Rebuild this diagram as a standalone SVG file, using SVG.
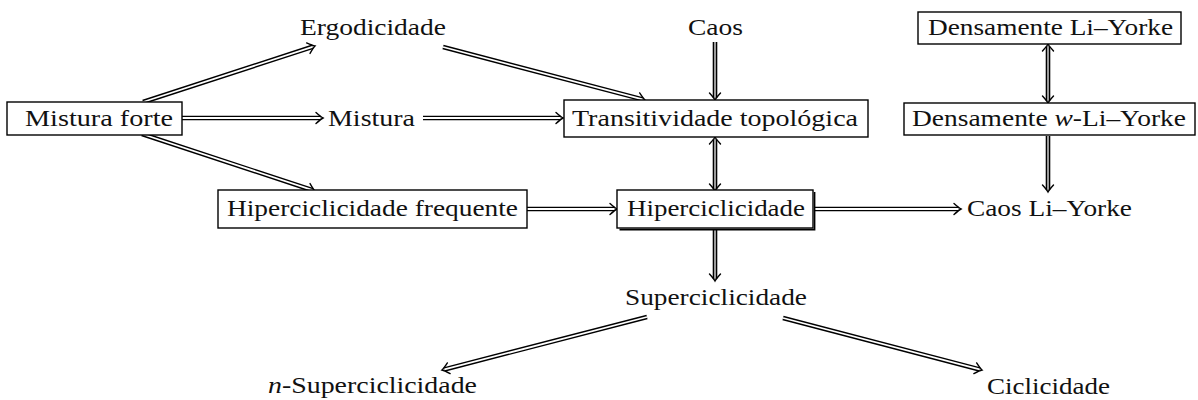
<svg xmlns="http://www.w3.org/2000/svg" width="1198" height="400" viewBox="0 0 1198 400">
<style>
text{font-family:"Liberation Serif","DejaVu Serif",serif;font-size:24px;fill:#111}
.box{fill:#fff;stroke:#000;stroke-width:1.4}
.o{fill:none;stroke:#000;stroke-width:4.6}
.i{fill:none;stroke:#fff;stroke-width:1.8}
.iv{fill:none;stroke:#9a9a9a;stroke-width:2}
.e{marker-end:url(#ah)}
.b{marker-start:url(#ah);marker-end:url(#ah)}
</style>
<defs>
<marker id="ah" markerWidth="16" markerHeight="16" viewBox="-12 -8 16 16" refX="-2.5" refY="0" orient="auto-start-reverse" markerUnits="userSpaceOnUse" overflow="visible">
<path d="M-7,-5.5 Q-2,-1 0,0 Q-2,1 -7,5.5" fill="none" stroke="#000" stroke-width="1.4" stroke-linecap="round"/>
</marker>
</defs>
<rect width="1198" height="400" fill="#fff"/>
<g id="connectors">
<path class="o" d="M143,102 L312.6,46.8"/><path class="i e" d="M143,102 L312.6,46.8"/>
<path class="o" d="M182,118 L320.5,118"/><path class="i e" d="M182,118 L320.5,118"/>
<path class="o" d="M142,134 L312.6,190.2"/><path class="i e" d="M142,134 L312.6,190.2"/>
<path class="o" d="M423,118 L560.5,118"/><path class="i e" d="M423,118 L560.5,118"/>
<path class="o" d="M443,47 L642.6,99.4"/><path class="i e" d="M443,47 L642.6,99.4"/>
<path class="o" d="M715,42 L715,97.5"/><path class="iv e" d="M715,42 L715,97.5"/>
<path class="o" d="M715,139.5 L715,188.5"/><path class="iv b" d="M715,139.5 L715,188.5"/>
<path class="o" d="M527,209 L614.5,209"/><path class="i e" d="M527,209 L614.5,209"/>
<path class="o" d="M815,209 L958.5,209"/><path class="i e" d="M815,209 L958.5,209"/>
<path class="o" d="M715,229 L715,278.5"/><path class="iv e" d="M715,229 L715,278.5"/>
<path class="o" d="M1048,46.5 L1048,100.5"/><path class="iv b" d="M1048,46.5 L1048,100.5"/>
<path class="o" d="M1048,136 L1048,189.5"/><path class="iv e" d="M1048,136 L1048,189.5"/>
<path class="o" d="M647,317 L444.4,369.4"/><path class="i e" d="M647,317 L444.4,369.4"/>
<path class="o" d="M783,318 L979.6,369.4"/><path class="i e" d="M783,318 L979.6,369.4"/>
</g>
<g id="ergodicidade"><text x="300" y="35" textLength="146" lengthAdjust="spacingAndGlyphs">Ergodicidade</text></g>
<g id="caos"><text x="688" y="35" textLength="55" lengthAdjust="spacingAndGlyphs">Caos</text></g>
<g id="densamente-li-yorke"><rect class="box" x="918" y="12" width="263" height="32"/><text x="928" y="35" textLength="245" lengthAdjust="spacingAndGlyphs">Densamente Li–Yorke</text></g>
<g id="mistura-forte"><rect class="box" x="7" y="102" width="175" height="33"/><text x="25" y="126" textLength="148" lengthAdjust="spacingAndGlyphs">Mistura forte</text></g>
<g id="mistura"><text x="328" y="126" textLength="87" lengthAdjust="spacingAndGlyphs">Mistura</text></g>
<g id="transitividade"><rect class="box" x="564" y="100" width="304" height="37"/><text x="572" y="126" textLength="286" lengthAdjust="spacingAndGlyphs">Transitividade topológica</text></g>
<g id="densamente-w-li-yorke"><rect class="box" x="904" y="103" width="291" height="32"/><text x="912" y="126" textLength="274" lengthAdjust="spacingAndGlyphs">Densamente <tspan font-style="italic">w</tspan>-Li–Yorke</text></g>
<g id="hip-freq"><rect class="box" x="218" y="190" width="309" height="38"/><text x="227" y="216" textLength="291" lengthAdjust="spacingAndGlyphs">Hiperciclicidade frequente</text></g>
<g id="hiperciclicidade"><path d="M619.5,229.6 H814.6 V192" fill="none" stroke="#000" stroke-width="1.6"/><rect class="box" x="617" y="190" width="196" height="38"/><text x="627" y="216" textLength="178" lengthAdjust="spacingAndGlyphs">Hiperciclicidade</text></g>
<g id="caos-li-yorke"><text x="967" y="216" textLength="165" lengthAdjust="spacingAndGlyphs">Caos Li–Yorke</text></g>
<g id="superciclicidade"><text x="625" y="305" textLength="182" lengthAdjust="spacingAndGlyphs">Superciclicidade</text></g>
<g id="n-superciclicidade"><text x="268" y="393" textLength="209" lengthAdjust="spacingAndGlyphs"><tspan font-style="italic">n</tspan>-Superciclicidade</text></g>
<g id="ciclicidade"><text x="987" y="394" textLength="123" lengthAdjust="spacingAndGlyphs">Ciclicidade</text></g>
</svg>
